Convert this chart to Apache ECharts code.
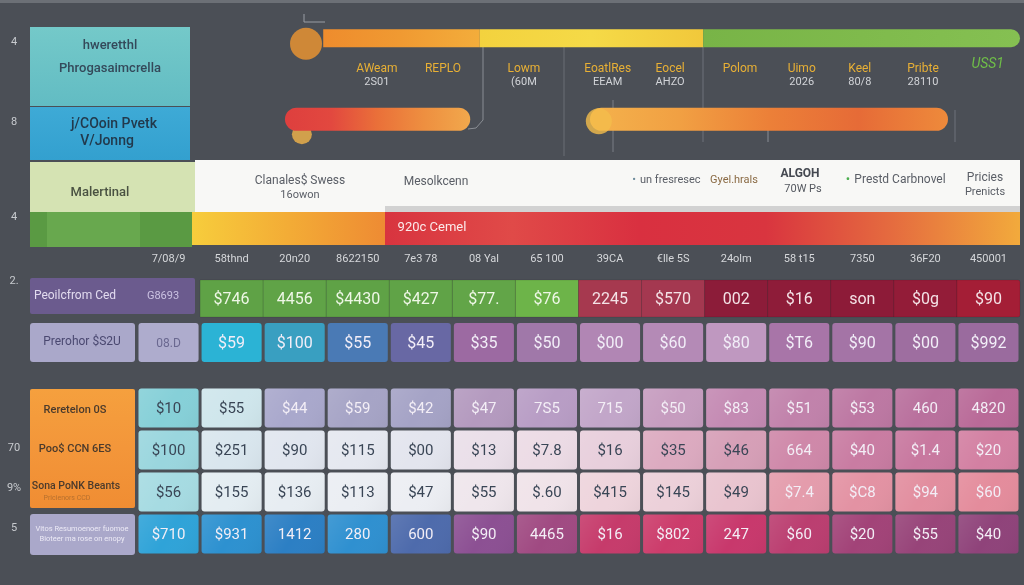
<!DOCTYPE html>
<html><head><meta charset="utf-8">
<script src="https://cdn.jsdelivr.net/npm/echarts@6/dist/echarts.min.js"></script>
<style>html,body{margin:0;padding:0;background:#4b4f56;}#c{width:1024px;height:585px;}</style>
</head><body><div id="c"></div>
<script>
// ================= DATA =================
const columnLabels = ['7/08/9','58thnd','20n20','8622150','7e3 78','08 Yal','65 100','39CA','€lle 5S','24olm','58 t15','7350','36F20','450001'];
const rowNumbers = ['4','8','4','2.','70','9%','5'];

// timeline (top): [row, start, end] on a 0-100 scale
const timelineSegments = [[0, 5.2, 26.5], [0, 26.5, 56.9], [0, 56.9, 100], [1, 0, 25.2], [1, 41.5, 90.2]];
const timelineDotsFront = [[2.86, 0], [42.7, 1]];
const timelineDotsBack = [[2.3, 1]];
const milestonePos = [12.5, 21.5, 32.5, 43.9, 52.4, 61.9, 70.3, 78.2, 86.8, 95.6];
const milestoneNames = ['AWeam', 'REPLO', 'Lowm', 'EoatlRes', 'Eocel', 'Polom', 'Uimo', 'Keel', 'Pribte', 'USS1'];
const milestoneValues = ['2S01', '', '(60M', 'EEAM', 'AHZO', '', '2026', '80/8', '28110', ''];

// upper table
const topRowLabels = ['Peoilcfrom Ced', 'Prerohor $S2U'];
const topRow1Lead = 'G8693';
const topRow1 = [null, '$746', '4456', '$4430', '$427', '$77.', '$76', '2245', '$570', '002', '$16', 'son', '$0g', '$90'];
const topRow2 = ['08.D', '$59', '$100', '$55', '$45', '$35', '$50', '$00', '$60', '$80', '$T6', '$90', '$00', '$992'];

// lower table
const lowerLabels = ['Reretelon 0S', 'Poo$ CCN 6ES', 'Sona PoNK Beants', 'Vitos Resumoenoer fuomoe'];
const lowerRowA = ['$10', '$55', '$44', '$59', '$42', '$47', '7S5', '715', '$50', '$83', '$51', '$53', '460', '4820'];
const lowerRowB = ['$100', '$251', '$90', '$115', '$00', '$13', '$7.8', '$16', '$35', '$46', '664', '$40', '$1.4', '$20'];
const lowerRowC = ['$56', '$155', '$136', '$113', '$47', '$55', '$.60', '$415', '$145', '$49', '$7.4', '$C8', '$94', '$60'];
const lowerRowD = ['$710', '$931', '1412', '280', '600', '$90', '4465', '$16', '$802', '247', '$60', '$20', '$55', '$40'];

// ================= STYLES =================
const FONT = 'Roboto, "Open Sans", "DejaVu Sans", sans-serif';
const segStyle = [
  {dy: -1.5, h: 18, r: 0, stops: ['#ee8c2d', '#f09a32', '#f3ad3b']},
  {dy: -1.5, h: 18, r: 0, stops: ['#f3d23e', '#f5da47', '#f1c83b']},
  {dy: -1.5, h: 18, r: [0, 9, 9, 0], stops: ['#78b447', '#7fba4c', '#85c052']},
  {dy: 0, h: 23, r: 11.5, stops: ['#de3f3e', '#e2483f', '#ea7039', '#ee8f40', '#f1a84c']},
  {dy: 0, h: 23, r: 11.5, stops: ['#f4b24c', '#f1a043', '#ec8038', '#e66b37', '#ee8a3b']}
];
const upperRow1Colors = [null, '#5fa246', '#60a347', '#5fa246', '#60a347', '#62a548', '#6db449', '#a6394f', '#a43850', '#8c1c39', '#8e1c39', '#8d1b38', '#931c38', '#a41e36'];
const upperRow2Colors = ['#aeaccd', '#2bb3d5', '#399fc1', '#4a7ab5', '#6868a4', '#9c6aa2', '#a078a9', '#b186b4', '#b48ab6', '#bf98c0', '#a875a8', '#a474a6', '#9e6ea0', '#9a6b9e'];
const lowerColors = [
  ['#86d0d8', '#cfe6ec', '#a9a8cc', '#a6a4c6', '#a5a3c6', '#b49abf', '#b89dc5', '#c2a6c9', '#c69cbf', '#c48ab3', '#c182ab', '#bd78a3', '#b9709d', '#b96a98'],
  ['#9ad6de', '#d9e6ee', '#e1e6ef', '#e5e8f0', '#e3e5ee', '#eadfe9', '#ecdbe5', '#e8cfdc', '#dcaac0', '#d69fb7', '#cf88a9', '#c97ca2', '#c8789f', '#d380a2'],
  ['#a6dbe2', '#e4edf2', '#e7edf2', '#ebeef3', '#eceef3', '#efe6ec', '#f0e3e9', '#eed4dc', '#ecd0d9', '#e9c4cf', '#e49cac', '#e392a3', '#e28e9f', '#e48c9c'],
  ['#2fa3d8', '#2d91d0', '#2c7fc4', '#2f90d0', '#4e6bac', '#8c5093', '#a04a82', '#c63b6b', '#cc3c6b', '#c8386c', '#bb3e70', '#a24378', '#974479', '#8f437a']
];
const lowerDarkTextCols = [[0, 1], [0,1,2,3,4,5,6,7,8,9], [0,1,2,3,4,5,6,7,8,9], []];

function lg(stops, x2, y2) {
  return new echarts.graphic.LinearGradient(0, 0, x2 === undefined ? 1 : x2, y2 === undefined ? 0 : y2,
    stops.map((c, i) => ({offset: stops.length === 1 ? 0 : i / (stops.length - 1), color: c})));
}
function T(x, y, text, fill, size, extra) {
  return {type: 'text', x: x, y: y, z: 20, silent: true,
    style: {text: text, fill: fill, font: (extra && extra.weight ? extra.weight + ' ' : '') + size + 'px ' + FONT,
      textAlign: (extra && extra.align) || 'center', textVerticalAlign: 'middle',
      align: (extra && extra.align) || 'center', verticalAlign: 'middle'}};
}
function R(x, y, w, h, fill, r, z) {
  return {type: 'rect', silent: true, z: z || 5, shape: {x: x, y: y, width: w, height: h, r: r || 0}, style: {fill: fill}};
}

// build cell lists from data arrays
const upperCells = [];
topRow1.forEach((v, c) => { if (v !== null) upperCells.push({col: c, row: 0, label: v}); });
topRow2.forEach((v, c) => upperCells.push({col: c, row: 1, label: v}));
const lowerCells = [];
[lowerRowA, lowerRowB, lowerRowC, lowerRowD].forEach((arr, r) => arr.forEach((v, c) => lowerCells.push({col: c, row: r, label: v})));

const chart = echarts.init(document.getElementById('c'));

const rowNumY = [42, 122, 217, 281, 448, 488, 528];
const graphic = [
  R(0, 0, 1024, 3, '#6c7076', 0, 1),
  // left stacked panels
  R(30, 27, 160, 79, lg(['#74c9c9', '#62bcc3'], 0, 1)),
  T(110, 46, 'hweretthl', '#34495a', 13, {weight: 500}),
  T(110, 69, 'Phrogasaimcrella', '#34495a', 13, {weight: 500}),
  R(30, 107, 160, 53, lg(['#3eaad6', '#33a0cf'], 0, 1)),
  T(114, 124, 'j/COoin Pvetk', '#22394c', 14, {weight: 500}),
  T(107, 141, 'V/Jonng', '#22394c', 14, {weight: 500}),
  R(30, 162, 165, 50, '#d5e3b3'),
  T(100, 193, 'Malertinal', '#4a5242', 13, {weight: 500}),
  R(30, 212, 162, 35, '#5a9a43'),
  R(47, 212, 93, 35, '#68a84e'),
  // white band
  R(195, 160, 825, 52, '#f8f8f6'),
  R(385, 206, 635, 6, '#d2d2d2', 0, 6),
  T(300, 181, 'Clanales$ Swess', '#5a5e66', 12),
  T(300, 195, '16owon', '#5a5e66', 11),
  T(436, 182, 'Mesolkcenn', '#5a5e66', 12),
  T(634, 180, '•', '#6e8c9c', 11),
  T(640, 180, 'un fresresec', '#5a5e66', 11, {align: 'left'}),
  T(710, 180, 'Gyel.hrals', '#8a6a44', 11, {align: 'left'}),
  T(800, 174, 'ALGOH', '#444850', 12, {weight: 'bold'}),
  T(803, 189, '70W Ps', '#555960', 11),
  T(848, 180, '•', '#4caf50', 13),
  T(900, 180, 'Prestd Carbnovel', '#5a5e66', 12),
  T(985, 178, 'Pricies', '#5a5e66', 12),
  T(985, 192, 'Prenicts', '#5a5e66', 11),
  // gradient band
  R(192, 212, 193, 33, lg(['#f7cd3c', '#f3ac36', '#ee8b33'])),
  R(385, 212, 635, 33, lg(['#d8343f', '#e04a48', '#d93040', '#d9353f', '#e56c3f', '#f2aa3c'])),
  T(432, 228, '920c Cemel', '#fbeaea', 13),
  // upper table row labels
  R(30, 278, 165, 36, '#6b5b8e', 2),
  T(75, 296, topRowLabels[0], '#e2dbef', 12),
  T(163, 296, topRow1Lead, '#cbc2e2', 11),
  R(30, 323, 105, 39, '#aaa8ca', 3),
  T(82, 342, topRowLabels[1], '#4a4870', 12),
  // lower table row labels
  R(30, 389, 105, 119, lg(['#f5a03e', '#f3963a', '#f08d33'], 0, 1), 2),
  T(75, 410, lowerLabels[0], '#4a3a2c', 11, {weight: 500}),
  T(75, 449, lowerLabels[1], '#4a3a2c', 11, {weight: 500}),
  T(76, 486, lowerLabels[2], '#4a3a2c', 10.5, {weight: 500}),
  T(67, 498, 'Pricienors CCD', '#b7702e', 7),
  R(30, 514, 105, 41, '#aaa8ca', 3),
  T(82, 529, lowerLabels[3], '#eceaf6', 7.5),
  T(82, 539, 'Bioteer ma rose on enopy', '#eceaf6', 7.5),
  // faint guide lines of the timeline
  {type: 'polyline', silent: true, z: 2, shape: {points: [[483, 46], [483, 120], [476, 128], [468, 129]]}, style: {stroke: '#8a8e94', lineWidth: 1, fill: null}},
  {type: 'line', silent: true, z: 2, shape: {x1: 564, y1: 46, x2: 564, y2: 156}, style: {stroke: '#6a6e75', lineWidth: 1}},
  {type: 'line', silent: true, z: 2, shape: {x1: 703, y1: 46, x2: 703, y2: 142}, style: {stroke: '#6f737a', lineWidth: 1}},
  {type: 'line', silent: true, z: 2, shape: {x1: 613, y1: 100, x2: 613, y2: 152}, style: {stroke: '#7a7e85', lineWidth: 1}},
  {type: 'line', silent: true, z: 2, shape: {x1: 768, y1: 128, x2: 768, y2: 142}, style: {stroke: '#8a8e94', lineWidth: 1}},
  {type: 'line', silent: true, z: 2, shape: {x1: 955, y1: 110, x2: 955, y2: 142}, style: {stroke: '#6f737a', lineWidth: 1}},
  {type: 'polyline', silent: true, z: 2, shape: {points: [[304, 14], [304, 22], [325, 22]]}, style: {stroke: '#9a9ea4', lineWidth: 1, fill: null}}
];
rowNumbers.forEach((n, i) => graphic.push(T(14, rowNumY[i], n, '#c8cbcf', 11)));

const option = {
  backgroundColor: '#4b4f56',
  animation: false,
  grid: [
    {left: 285, top: -3, width: 735, height: 162},
    {left: 137, top: 276, width: 883, height: 90},
    {left: 137, top: 387, width: 883, height: 168}
  ],
  xAxis: [
    {gridIndex: 0, type: 'value', min: 0, max: 100, show: false},
    {gridIndex: 1, type: 'category', data: columnLabels, position: 'top',
      axisLine: {show: false}, axisTick: {show: false}, splitLine: {show: false},
      axisLabel: {interval: 0, color: '#d6d8db', fontSize: 11, margin: 11, fontFamily: FONT}},
    {gridIndex: 2, type: 'category', data: columnLabels, show: false}
  ],
  yAxis: [
    {gridIndex: 0, type: 'category', data: ['upper', 'lower'], inverse: true, show: false},
    {gridIndex: 1, type: 'category', data: topRowLabels, inverse: true, show: false},
    {gridIndex: 2, type: 'category', data: lowerLabels, inverse: true, show: false}
  ],
  graphic: graphic,
  series: [
    { // dot behind the lower bar
      type: 'scatter', xAxisIndex: 0, yAxisIndex: 0, z: 2, silent: true,
      data: timelineDotsBack, symbol: 'circle', symbolSize: 20, symbolOffset: [0, 15],
      itemStyle: {color: '#f2b44a'}
    },
    { // timeline bars
      type: 'custom', xAxisIndex: 0, yAxisIndex: 0, z: 3, silent: true,
      data: timelineSegments.map(d => [d[1], d[0], d[2]]),
      encode: {x: [0, 2], y: 1},
      renderItem: function (params, api) {
        const st = segStyle[params.dataIndex];
        const row = api.value(1);
        const p0 = api.coord([api.value(0), row]);
        const p1 = api.coord([api.value(2), row]);
        return {type: 'rect', shape: {x: p0[0], y: p0[1] - st.h / 2 + st.dy, width: p1[0] - p0[0], height: st.h, r: st.r},
          style: {fill: lg(st.stops)}};
      }
    },
    { // dots in front
      type: 'scatter', xAxisIndex: 0, yAxisIndex: 0, z: 4, silent: true,
      data: [
        {value: timelineDotsFront[0], symbolSize: 32, symbolOffset: [0, 4], itemStyle: {color: '#f0962f'}},
        {value: timelineDotsFront[1], symbolSize: 26, symbolOffset: [0, 2], itemStyle: {color: '#f4bd4b'}}
      ]
    },
    { // milestone labels
      type: 'custom', xAxisIndex: 0, yAxisIndex: 0, z: 5, silent: true,
      data: milestonePos.map(p => [p, 0]),
      renderItem: function (params, api) {
        const i = params.dataIndex;
        const c = api.coord([api.value(0), 0]);
        const last = i === milestoneNames.length - 1;
        const children = [{type: 'text', style: {text: milestoneNames[i], x: c[0], y: c[1] + (last ? 25 : 29),
          fill: last ? '#6fbe48' : '#e8b035', font: (last ? 'italic 14px ' : '12px ') + FONT,
          textAlign: 'center', textVerticalAlign: 'middle', align: 'center', verticalAlign: 'middle'}}];
        if (milestoneValues[i]) children.push({type: 'text', style: {text: milestoneValues[i], x: c[0], y: c[1] + 42,
          fill: '#d2d4d8', font: '11px ' + FONT, textAlign: 'center', textVerticalAlign: 'middle', align: 'center', verticalAlign: 'middle'}});
        return {type: 'group', children: children};
      }
    },
    { // upper table cells
      type: 'custom', xAxisIndex: 1, yAxisIndex: 1, z: 6, silent: true,
      data: upperCells.map(d => [d.col, d.row]),
      encode: {x: 0, y: 1},
      renderItem: function (params, api) {
        const d = upperCells[params.dataIndex];
        const c = api.coord([d.col, d.row]);
        const s = api.size([1, 1]);
        let x, y, w, h, r, fill, tc, stroke = null;
        if (d.row === 0) {
          x = c[0] - s[0] / 2; w = s[0]; y = c[1] - 18.5; h = 37; r = 0;
          fill = upperRow1Colors[d.col]; stroke = 'rgba(0,0,0,0.10)';
          tc = d.col <= 6 ? '#eef7e6' : '#f4e2e6';
          if (d.col === 13) r = [0, 2, 2, 0];
        } else {
          x = c[0] - s[0] / 2 + 1.5; w = s[0] - 3; y = c[1] - 20.5; h = 39; r = 3;
          fill = upperRow2Colors[d.col];
          tc = d.col === 0 ? '#6a6890' : '#f2eef8';
        }
        return {type: 'group', children: [
          {type: 'rect', shape: {x: x, y: y, width: w, height: h, r: r}, style: {fill: fill, stroke: stroke, lineWidth: 1}},
          {type: 'text', style: {text: d.label, x: c[0], y: y + h / 2 + 1, fill: tc, font: (d.col === 0 ? '12px ' : '16px ') + FONT,
            textAlign: 'center', textVerticalAlign: 'middle', align: 'center', verticalAlign: 'middle'}}
        ]};
      }
    },
    { // lower table cells
      type: 'custom', xAxisIndex: 2, yAxisIndex: 2, z: 6, silent: true,
      data: lowerCells.map(d => [d.col, d.row]),
      encode: {x: 0, y: 1},
      renderItem: function (params, api) {
        const d = lowerCells[params.dataIndex];
        const c = api.coord([d.col, d.row]);
        const s = api.size([1, 1]);
        const x = c[0] - s[0] / 2 + 1.5, w = s[0] - 3, y = c[1] - 19.5, h = 39;
        const dark = lowerDarkTextCols[d.row].indexOf(d.col) >= 0;
        const base = lowerColors[d.row][d.col];
        return {type: 'group', children: [
          {type: 'rect', shape: {x: x, y: y, width: w, height: h, r: 3}, style: {fill: base}},
          {type: 'rect', shape: {x: x, y: y, width: w, height: h, r: 3},
            style: {fill: lg(['rgba(255,255,255,0.10)', 'rgba(255,255,255,0)', 'rgba(0,0,0,0.04)'], 1, 1)}},
          {type: 'text', style: {text: d.label, x: c[0], y: c[1] + 1, fill: dark ? '#3a4656' : '#f3eef6', font: '15px ' + FONT,
            textAlign: 'center', textVerticalAlign: 'middle', align: 'center', verticalAlign: 'middle'}}
        ]};
      }
    }
  ]
};
chart.setOption(option);
</script>
</body></html>
